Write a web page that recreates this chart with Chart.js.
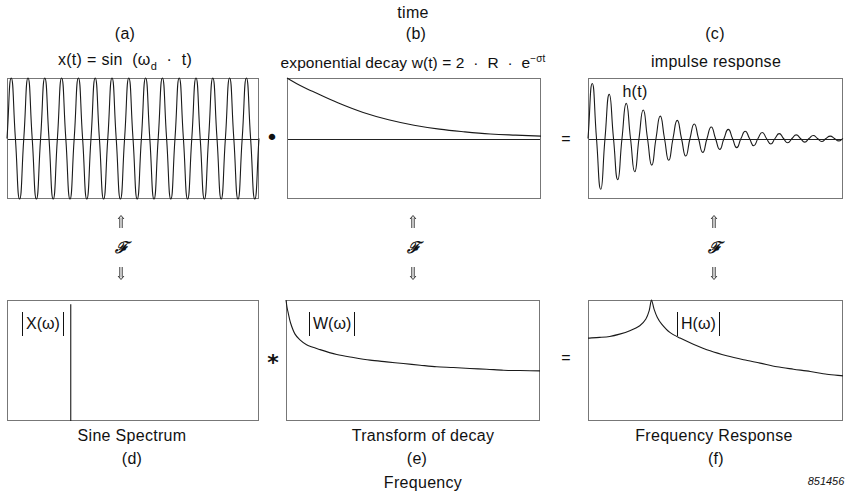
<!DOCTYPE html>
<html>
<head>
<meta charset="utf-8">
<script src="https://cdn.jsdelivr.net/npm/chart.js@4.4.1/dist/chart.umd.min.js"></script>
<style>
  body { margin: 0; background: #fff; }
  #page { position: relative; width: 847px; height: 492px; overflow: hidden;
          font-family: "Liberation Sans", Arial, sans-serif; color: #111; }
  .txt { position: absolute; transform: translate(-50%, -50%); white-space: nowrap;
         line-height: 1; font-size: 16px; letter-spacing: 0.3px; }
  .sym { position: absolute; transform: translate(-50%, -50%); line-height: 1;
         font-family: "DejaVu Sans", sans-serif; }
  .fourier { position: absolute; transform: translate(-50%, -50%); line-height: 1;
             font-family: "DejaVu Serif", serif; font-style: italic; font-weight: bold; font-size: 16px; }
  .arrow { position: absolute; transform: translate(-50%, -50%); }
  .mag { position: absolute; height: 24px; line-height: 24px; padding: 0 3px;
         border-left: 1.5px solid #111; border-right: 1.5px solid #111; font-size: 16px; }
  canvas { position: absolute; }
</style>
</head>
<body>
<div id="page">
  <div class="txt" style="left:413px;top:13px">time</div>
  <div class="txt" style="left:125px;top:34px">(a)</div>
  <div class="txt" style="left:416px;top:34px">(b)</div>
  <div class="txt" style="left:715px;top:34px">(c)</div>
  <div class="txt" style="left:125px;top:62px">x(t) = sin &nbsp;(ω<sub style="font-size:11px">d</sub> &nbsp;·&nbsp; t)</div>
  <div class="txt" style="left:413px;top:62px;font-size:15.5px;letter-spacing:0.1px">exponential decay w(t) = 2 &nbsp;·&nbsp; R &nbsp;·&nbsp; e<sup style="font-size:10px">−σt</sup></div>
  <div class="txt" style="left:716px;top:62px">impulse response</div>
  <div class="txt" style="left:635px;top:92px">h(t)</div>

  <div class="sym" style="left:272px;top:138px;font-size:22px">•</div>
  <div class="txt" style="left:566px;top:139px">=</div>
  <div class="sym" style="left:273px;top:363px;font-size:22px;font-weight:bold">*</div>
  <div class="txt" style="left:566px;top:358px">=</div>

  <div class="fourier" style="left:121px;top:248px">ℱ</div>
  <div class="fourier" style="left:413px;top:248px">ℱ</div>
  <div class="fourier" style="left:714px;top:248px">ℱ</div>

  <div class="txt" style="left:132px;top:436px">Sine Spectrum</div>
  <div class="txt" style="left:423px;top:436px">Transform of decay</div>
  <div class="txt" style="left:714px;top:436px">Frequency Response</div>
  <div class="txt" style="left:132px;top:459px">(d)</div>
  <div class="txt" style="left:417px;top:459px">(e)</div>
  <div class="txt" style="left:716px;top:459px">(f)</div>
  <div class="txt" style="left:423px;top:483px">Frequency</div>
  <div class="txt" style="left:826px;top:481px;font-size:11px;font-style:italic;letter-spacing:0">851456</div>
</div>

<script>
// (a) sine, sampled every quarter cycle, 15 cycles
const sineWave = [
  0, 1, 0, -1,  0, 1, 0, -1,  0, 1, 0, -1,  0, 1, 0, -1,  0, 1, 0, -1,
  0, 1, 0, -1,  0, 1, 0, -1,  0, 1, 0, -1,  0, 1, 0, -1,  0, 1, 0, -1,
  0, 1, 0, -1,  0, 1, 0, -1,  0, 1, 0, -1,  0, 1, 0, -1,  0, 1, 0, -1,
  0
];

// (b) exponential decay
const decayTime = [0, 0.05, 0.1, 0.2, 0.3, 0.4, 0.5, 0.6, 0.7, 0.8, 0.9, 1.0];
const decayValue = [1.0, 0.88, 0.78, 0.59, 0.43, 0.31, 0.22, 0.155, 0.11, 0.075, 0.055, 0.04];

// (c) impulse response, same quarter-cycle sampling as (a)
const impulseWave = [
  0, 0.91, 0, -0.84,  0, 0.73, 0, -0.68,  0, 0.58, 0, -0.55,  0, 0.47, 0, -0.44,
  0, 0.37, 0, -0.36,  0, 0.30, 0, -0.29,  0, 0.24, 0, -0.23,  0, 0.19, 0, -0.18,
  0, 0.15, 0, -0.15,  0, 0.12, 0, -0.12,  0, 0.10, 0, -0.09,  0, 0.08, 0, -0.07,
  0, 0.06, 0, -0.06,  0, 0.05, 0, -0.05,  0, 0.04, 0, -0.04,
  0
];

// (d) sine spectrum: one line
const spectrumFreq = [0.253];
const spectrumMag = [0.965];

// (e) transform of decay
const transformFreq = [0, 0.004, 0.009, 0.018, 0.035, 0.055, 0.081, 0.134, 0.2, 0.265,
  0.331, 0.396, 0.462, 0.528, 0.593, 0.659, 0.724, 0.79, 0.856, 0.921, 1.0];
const transformMag = [1.0, 0.94, 0.89, 0.81, 0.72, 0.67, 0.63, 0.59, 0.55, 0.525,
  0.503, 0.489, 0.475, 0.461, 0.448, 0.442, 0.434, 0.428, 0.42, 0.417, 0.414];

// (f) frequency response
const responseFreq = [0, 0.046, 0.085, 0.124, 0.164, 0.203, 0.227, 0.24, 0.249, 0.259,
  0.272, 0.289, 0.321, 0.361, 0.413, 0.479, 0.544, 0.61, 0.675, 0.741, 0.806, 0.872, 0.937, 1.0];
const responseMag = [0.685, 0.691, 0.699, 0.718, 0.746, 0.787, 0.843, 0.912, 1.0, 0.925,
  0.856, 0.801, 0.732, 0.685, 0.635, 0.58, 0.539, 0.506, 0.478, 0.448, 0.428, 0.409, 0.387, 0.373];

// panel labels |X(ω)| etc.
const magLabels = ["X(ω)", "W(ω)", "H(ω)"];
const magLabelLeft = [22, 309, 677];

const PAD = 4;
const page = document.getElementById("page");

magLabels.forEach((label, i) => {
  const el = document.createElement("div");
  el.className = "mag";
  el.style.left = magLabelLeft[i] + "px";
  el.style.top = "312px";
  el.textContent = label;
  page.appendChild(el);
});

// double arrows between the time and frequency rows
const arrowSvg = (up) => {
  const d = up
    ? "M1 4 L4 0.5 L7 4 M2.8 2.5 V13 M5.2 2.5 V13"
    : "M1 9 L4 12.5 L7 9 M2.8 0 V10.5 M5.2 0 V10.5";
  return '<svg width="8" height="13" viewBox="0 0 8 13"><path d="' + d +
    '" fill="none" stroke="#222" stroke-width="0.9"/></svg>';
};
[121, 413, 714].forEach((x) => {
  [[223, true], [275, false]].forEach(([y, up]) => {
    const el = document.createElement("div");
    el.className = "arrow";
    el.style.left = x + "px";
    el.style.top = y + "px";
    el.innerHTML = arrowSvg(up);
    page.appendChild(el);
  });
});

// box around the plot area, plus optional zero line
const framePlugin = {
  id: "frame",
  beforeDatasetsDraw(chart, args, opts) {
    const { ctx, chartArea: a, scales } = chart;
    ctx.save();
    if (opts.baseline) {
      const y = Math.round(scales.y.getPixelForValue(0)) + 0.5;
      ctx.strokeStyle = "#222";
      ctx.lineWidth = 1.1;
      ctx.beginPath();
      ctx.moveTo(a.left, y);
      ctx.lineTo(a.right, y);
      ctx.stroke();
    }
    ctx.strokeStyle = "#777";
    ctx.lineWidth = 1;
    ctx.strokeRect(a.left + 0.5, a.top + 0.5, a.width - 1, a.height - 1);
    ctx.restore();
  },
};

const toPoints = (xs, ys) => xs.map((x, i) => ({ x: x, y: ys[i] }));
const quarterPoints = (ys) => ys.map((y, i) => ({ x: i / 4, y: y }));

const makePanel = (box, points, xMax, yMin, yMax, baseline, tension) => {
  const canvas = document.createElement("canvas");
  const w = box.r - box.l + 2 * PAD;
  const h = box.b - box.t + 2 * PAD;
  canvas.width = w;
  canvas.height = h;
  canvas.style.left = box.l - PAD + "px";
  canvas.style.top = box.t - PAD + "px";
  canvas.style.width = w + "px";
  canvas.style.height = h + "px";
  page.appendChild(canvas);

  new Chart(canvas, {
    type: "line",
    data: {
      datasets: [
        {
          data: points,
          borderColor: "#1a1a1a",
          borderWidth: 1.1,
          pointRadius: 0,
          tension: tension,
          clip: PAD,
        },
      ],
    },
    options: {
      responsive: false,
      animation: false,
      devicePixelRatio: 1,
      layout: { padding: PAD },
      plugins: {
        legend: { display: false },
        tooltip: { enabled: false },
        frame: { baseline: baseline },
      },
      scales: {
        x: { type: "linear", display: false, min: 0, max: xMax },
        y: { display: false, min: yMin, max: yMax },
      },
    },
    plugins: [framePlugin],
  });
};

makePanel({ l: 7, t: 78, r: 259, b: 199 }, quarterPoints(sineWave), 15, -1, 1, true, 0.55);
makePanel({ l: 287, t: 78, r: 541, b: 199 }, toPoints(decayTime, decayValue), 1, -1, 1, true, 0.4);
makePanel({ l: 588, t: 78, r: 843, b: 199 }, quarterPoints(impulseWave), 15, -1, 1, true, 0.55);

// spike drawn from the baseline up to its magnitude
const spikePoints = [
  { x: spectrumFreq[0], y: 0 },
  { x: spectrumFreq[0], y: spectrumMag[0] },
];
makePanel({ l: 7, t: 300, r: 259, b: 421 }, spikePoints, 1, 0, 1, false, 0);
makePanel({ l: 286, t: 300, r: 540, b: 421 }, toPoints(transformFreq, transformMag), 1, 0, 1, false, 0.3);
makePanel({ l: 588, t: 300, r: 843, b: 421 }, toPoints(responseFreq, responseMag), 1, 0, 1, false, 0.3);
</script>
</body>
</html>
